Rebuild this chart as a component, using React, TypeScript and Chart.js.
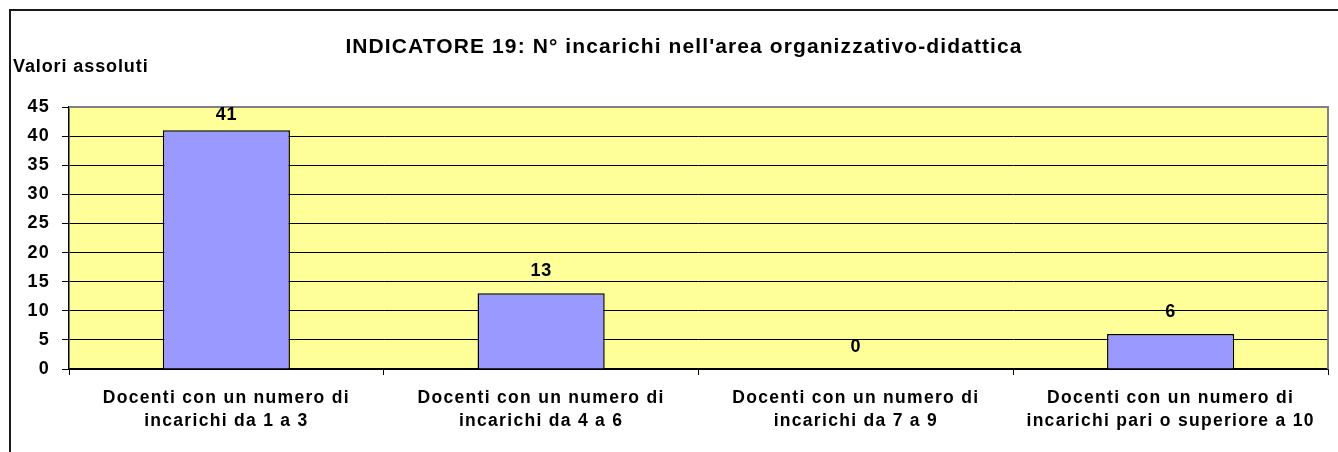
import { useEffect, useRef } from "react";
import { Chart, registerables } from "chart.js";

Chart.register(...registerables);

const chartTitle = "INDICATORE 19: N° incarichi nell'area organizzativo-didattica";
const yAxisTitle = "Valori assoluti";

const categories: string[][] = [
  ["Docenti con un numero di", "incarichi da 1 a 3"],
  ["Docenti con un numero di", "incarichi da 4 a 6"],
  ["Docenti con un numero di", "incarichi da 7 a 9"],
  ["Docenti con un numero di", "incarichi pari o superiore a 10"],
];
const values: number[] = [41, 13, 0, 6];

const yMin = 0;
const yMax = 45;
const yStep = 5;

const FONT = "'Liberation Sans', Arial, sans-serif";
const PLOT_BG = "#FFFF99";
const BAR_FILL = "#9999FF";
const SPACING = "1.3px";

// Plot background, outer frame and the two free-standing titles
const decorPlugin = {
  id: "decor",
  beforeDraw(chart: any) {
    const { ctx, chartArea, width, height } = chart;
    ctx.letterSpacing = SPACING;
    ctx.save();
    ctx.fillStyle = "#ffffff";
    ctx.fillRect(0, 0, width, height);
    ctx.fillStyle = PLOT_BG;
    ctx.fillRect(
      chartArea.left,
      chartArea.top,
      chartArea.right - chartArea.left,
      chartArea.bottom - chartArea.top
    );
    ctx.restore();
  },
  beforeDatasetsDraw(chart: any) {
    const { ctx, chartArea } = chart;
    ctx.save();
    ctx.strokeStyle = "#808080";
    ctx.lineWidth = 2;
    ctx.beginPath();
    ctx.moveTo(chartArea.left, chartArea.top);
    ctx.lineTo(chartArea.right, chartArea.top);
    ctx.lineTo(chartArea.right, chartArea.bottom);
    ctx.stroke();
    ctx.restore();
  },
  afterDraw(chart: any) {
    const { ctx, width, height } = chart;
    ctx.save();
    // outer frame (continues past the bottom and right edges)
    ctx.strokeStyle = "#1a1a1a";
    ctx.lineWidth = 2;
    ctx.beginPath();
    ctx.moveTo(10, height + 5);
    ctx.lineTo(10, 10);
    ctx.lineTo(width + 5, 10);
    ctx.stroke();

    ctx.fillStyle = "#000";
    ctx.textBaseline = "middle";
    ctx.letterSpacing = "1.1px";
    ctx.font = `bold 21px ${FONT}`;
    ctx.textAlign = "center";
    ctx.fillText(chartTitle, 684, 47);

    ctx.letterSpacing = "0.9px";
    ctx.font = `bold 18px ${FONT}`;
    ctx.textAlign = "left";
    ctx.fillText(yAxisTitle, 13, 67);
    ctx.restore();
  },
};

// Value labels above each bar
const valueLabelPlugin = {
  id: "valueLabels",
  afterDatasetsDraw(chart: any) {
    const { ctx, chartArea } = chart;
    const meta = chart.getDatasetMeta(0);
    ctx.save();
    ctx.fillStyle = "#000";
    ctx.letterSpacing = "0.5px";
    ctx.font = `bold 18px ${FONT}`;
    ctx.textAlign = "center";
    ctx.textBaseline = "middle";
    meta.data.forEach((bar: any, i: number) => {
      const y = Math.max(bar.y - 22, chartArea.top + 8);
      ctx.fillText(String(values[i]), bar.x, y);
    });
    ctx.restore();
  },
};

export default function App() {
  const canvasRef = useRef<HTMLCanvasElement | null>(null);

  useEffect(() => {
    const canvas = canvasRef.current;
    if (!canvas) return;
    const chart = new Chart(canvas, {
      type: "bar",
      data: {
        labels: categories,
        datasets: [
          {
            data: values,
            backgroundColor: BAR_FILL,
            borderColor: "#000000",
            borderWidth: 1.5,
            categoryPercentage: 1,
            barPercentage: 0.404,
          },
        ],
      },
      options: {
        responsive: false,
        animation: false,
        events: [],
        layout: { padding: { top: 107, right: 10, bottom: 0, left: 0 } },
        plugins: {
          legend: { display: false },
          title: { display: false },
          tooltip: { enabled: false },
        },
        scales: {
          x: {
            afterFit: (s: any) => {
              s.height = 83;
            },
            grid: {
              drawOnChartArea: false,
              drawTicks: true,
              tickLength: 6,
              color: "#000",
              tickColor: "#000",
              offset: true,
            },
            border: { color: "#000", width: 1.5 },
            ticks: {
              color: "#000",
              padding: 11,
              maxRotation: 0,
              autoSkip: false,
              font: { family: FONT, size: 17.5, weight: "bold", lineHeight: 1.35 },
            },
          },
          y: {
            min: yMin,
            max: yMax,
            afterFit: (s: any) => {
              s.width = 69;
            },
            grid: {
              color: (c: any) => (c.tick && c.tick.value === yMax ? "#808080" : "#000"),
              tickColor: "#000",
              tickLength: 7,
              lineWidth: 1,
            },
            border: { color: "#000", width: 1.5 },
            ticks: {
              stepSize: yStep,
              color: "#000",
              padding: 12,
              font: { family: FONT, size: 18, weight: "bold" },
            },
          },
        },
      },
      plugins: [decorPlugin, valueLabelPlugin],
    });
    return () => chart.destroy();
  }, []);

  return (
    <div style={{ position: "absolute", left: 0, top: 0, width: 1338, height: 452, background: "#fff" }}>
      <canvas ref={canvasRef} width={1338} height={452} style={{ display: "block" }} />
    </div>
  );
}
